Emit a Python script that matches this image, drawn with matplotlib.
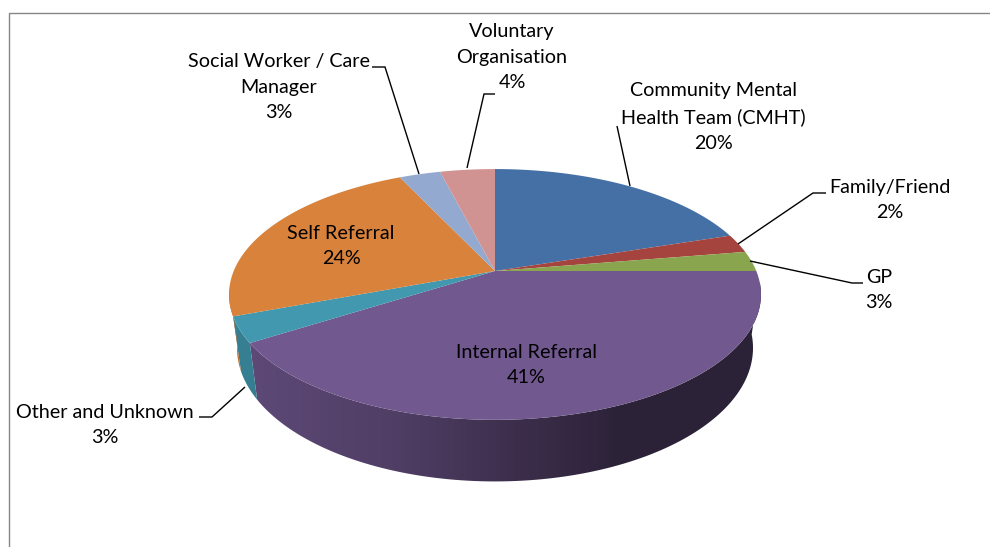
"""
Referral sources - tilted 3D style pie, drawn by hand since matplotlib's
pie has no depth. The disc is projected with a small perspective term.
"""

import numpy as np
import matplotlib
matplotlib.use("Agg")
import matplotlib.pyplot as plt
from matplotlib.patches import Polygon

# ================================================================
# DATA
# ================================================================

categories = ["Community Mental\nHealth Team (CMHT)", "Family/Friend", "GP",
              "Internal Referral", "Other and Unknown", "Self Referral",
              "Social Worker / Care\nManager", "Voluntary\nOrganisation"]
shares = [20.0, 2.4, 2.6, 41.0, 3.3, 23.7, 3.0, 4.0]
colors = ["#4470A5", "#A5443F", "#89A54E", "#71588F",
          "#4198AF", "#D8823C", "#93A9CF", "#D19392"]

# ================================================================
# LAYOUT
# ================================================================

CX, CY = 495, 271     # apex of the pie in pixels
RX, SY = 261.3, 121   # circle scale after perspective
K = 0.187             # perspective strength

label_pos = [(713, 117), (890, 200), (879, 290), (526, 365),
             (105, 425), (341, 246), (279, 87), (512, 57)]

leaders = [
    [(617, 126), (630, 186)],
    [(738, 244), (813, 193), (826, 193)],
    [(750, 261), (852, 283), (863, 283)],
    [(245, 387), (212, 417), (199, 417)],
    [(372, 67), (385, 67), (419, 174)],
    [(467, 168), (484, 94), (495, 94)],
]

# wall shade against screen x, teal/orange keep the same ramp
shade_x = [230, 260, 400, 500, 620, 760]
shade_v = [0.85, 0.82, 0.70, 0.55, 0.39, 0.39]


def top_point(phi):
    """phi in radians, clockwise from 12 o'clock."""
    x, y = np.sin(phi), np.cos(phi)
    w = 1 + K * y
    return CX + RX * x / w, CY - SY * y / w


def bottom_point(px, py):
    """Matching point on the lower rim."""
    return CX + (px - CX) * 0.97, py + 52 + 0.0645 * (py - CY)


fig = plt.figure(figsize=(9.9, 5.47), dpi=100)
ax = fig.add_axes([0, 0, 1, 1])

# chart border
ax.plot([8.5, 8.5, 990], [547, 12.5, 12.5], color="#868686", lw=1.0)

edges = np.cumsum([0] + shares) / sum(shares) * 2 * np.pi

# ================================================================
# SIDE WALL
# ================================================================

wall_start, wall_end = np.radians(95), np.radians(262)
grad_x = np.arange(220, 770)
for i, col in enumerate(colors):
    a0, a1 = max(edges[i], wall_start), min(edges[i + 1], wall_end)
    if a1 <= a0:
        continue
    phis = np.linspace(a0, a1, 120)
    xs, ys = top_point(phis)
    bxs, bys = bottom_point(xs, ys)
    outline = np.c_[np.r_[xs, bxs[::-1]], np.r_[ys, bys[::-1]]]
    patch = Polygon(outline, closed=True, transform=ax.transData,
                    facecolor="none", edgecolor="none")
    ax.add_patch(patch)

    base = np.array(matplotlib.colors.to_rgb(col))
    ramp = np.interp(grad_x, shade_x, shade_v)[None, :, None] * base
    im = ax.imshow(ramp, extent=[220, 770, 500, 250], aspect="auto",
                   interpolation="bilinear", zorder=2)
    im.set_clip_path(patch)

ax.set_xlim(0, 990)
ax.set_ylim(547, 0)
ax.axis("off")

# ================================================================
# TOP FACE
# ================================================================

for i, col in enumerate(colors):
    phis = np.linspace(edges[i], edges[i + 1], 80)
    xs, ys = top_point(phis)
    ax.fill(np.r_[CX, xs], np.r_[CY, ys], color=col, lw=0, zorder=3)

# ================================================================
# LABELS
# ================================================================

for pts in leaders:
    ax.plot(*zip(*pts), color="black", lw=1.0, zorder=4,
            solid_capstyle="butt", solid_joinstyle="miter")

for name, share, (lx, ly) in zip(categories, shares, label_pos):
    ax.text(lx, ly, f"{name}\n{round(share)}%", ha="center", va="center",
            family="Lato", fontsize=14.2, linespacing=1.6, color="black",
            zorder=5)

plt.savefig("out.png", dpi=100)
